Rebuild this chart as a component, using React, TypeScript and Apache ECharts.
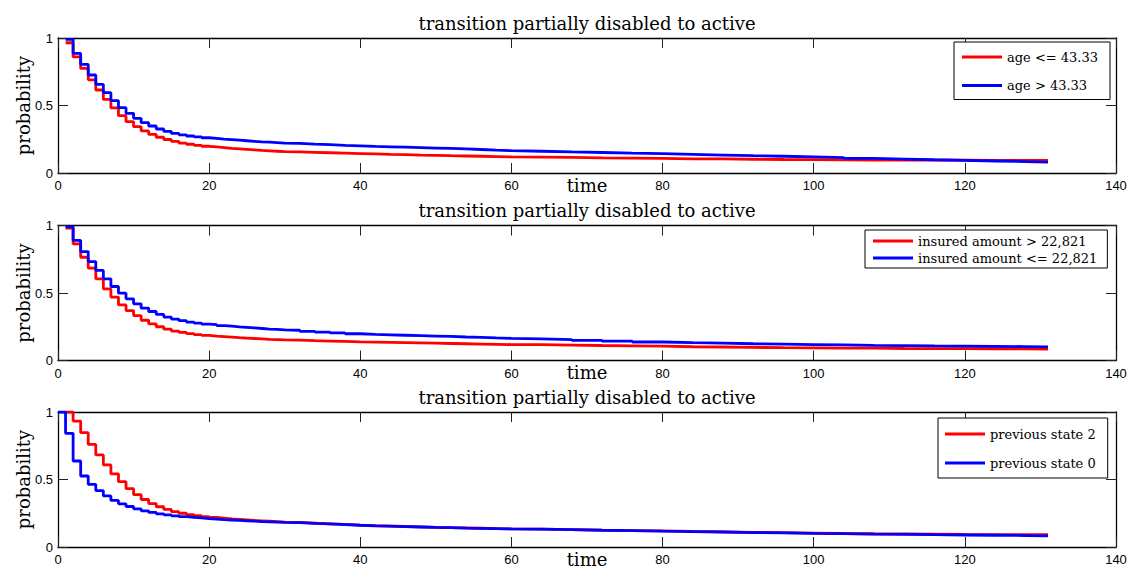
import React, { useEffect, useRef } from "react";
import * as echarts from "echarts";

// Time grid of the survival estimates (unit steps early on, coarser later).
const TIME = [
  1, 2, 3, 4, 5, 6, 7, 8, 9, 10, 11, 12, 13, 14, 15, 16, 17, 18, 19, 20, 21, 22, 23, 24, 25, 26, 27, 28, 29, 30,
  32, 34, 36, 38, 40, 42, 44, 46, 48, 50, 52, 54, 56, 58, 60,
  64, 68, 72, 76, 80, 84, 88, 92, 96, 100, 104, 108, 112, 116, 120, 124, 128, 131,
];
const TIME_FROM_ZERO = [0, ...TIME];

const TITLE = "transition partially disabled to active";
const X_LABEL = "time";
const Y_LABEL = "probability";

const X_MIN = 0;
const X_MAX = 140;
const X_STEP = 20;
const Y_MIN = 0;
const Y_MAX = 1;
const Y_STEP = 0.5;

// Panel 1: split by age
const AGE_NAMES = ["age <= 43.33", "age > 43.33"];
const AGE_LOW = [
  0.965, 0.86, 0.775, 0.69, 0.615, 0.545, 0.482, 0.425, 0.38, 0.343,
  0.312, 0.286, 0.265, 0.248, 0.234, 0.222, 0.213, 0.205, 0.198, 0.193,
  0.188, 0.183, 0.179, 0.175, 0.171, 0.167, 0.164, 0.161, 0.158, 0.156,
  0.153, 0.15, 0.147, 0.144, 0.141, 0.138, 0.136, 0.133, 0.131, 0.128, 0.126, 0.124, 0.122, 0.119, 0.117,
  0.115, 0.112, 0.11, 0.108, 0.105, 0.104, 0.102, 0.1, 0.099, 0.097, 0.096, 0.096, 0.095, 0.095, 0.094, 0.094, 0.094, 0.094,
];
const AGE_HIGH = [
  0.99, 0.886, 0.805, 0.726, 0.657, 0.595, 0.536, 0.484, 0.442, 0.405,
  0.373, 0.348, 0.326, 0.308, 0.293, 0.283, 0.274, 0.267, 0.261, 0.256,
  0.251, 0.247, 0.243, 0.239, 0.235, 0.231, 0.228, 0.225, 0.222, 0.219,
  0.214, 0.21, 0.205, 0.201, 0.197, 0.194, 0.191, 0.188, 0.185, 0.182, 0.178, 0.174, 0.169, 0.165, 0.161,
  0.156, 0.152, 0.147, 0.143, 0.138, 0.133, 0.128, 0.124, 0.119, 0.114, 0.108, 0.103, 0.098, 0.094, 0.089, 0.085, 0.081, 0.078,
];

// Panel 2: split by insured amount
const AMOUNT_NAMES = ["insured amount > 22,821", "insured amount <= 22,821"];
const AMOUNT_HIGH = [
  0.98, 0.864, 0.765, 0.684, 0.605, 0.53, 0.47, 0.412, 0.37, 0.333,
  0.298, 0.272, 0.25, 0.232, 0.218, 0.208, 0.199, 0.192, 0.186, 0.181,
  0.177, 0.173, 0.169, 0.166, 0.163, 0.16, 0.157, 0.155, 0.153, 0.151,
  0.147, 0.144, 0.141, 0.138, 0.136, 0.134, 0.132, 0.13, 0.128, 0.126, 0.124, 0.122, 0.12, 0.118, 0.117,
  0.114, 0.111, 0.109, 0.106, 0.102, 0.1, 0.097, 0.095, 0.094, 0.092, 0.091, 0.089, 0.088, 0.088, 0.087, 0.086, 0.085, 0.084,
];
const AMOUNT_LOW = [
  0.99, 0.89, 0.807, 0.733, 0.667, 0.605, 0.548, 0.499, 0.457, 0.42,
  0.388, 0.363, 0.341, 0.322, 0.307, 0.295, 0.285, 0.277, 0.27, 0.265,
  0.259, 0.254, 0.249, 0.245, 0.241, 0.237, 0.233, 0.23, 0.227, 0.224,
  0.216, 0.21, 0.204, 0.198, 0.193, 0.19, 0.187, 0.184, 0.181, 0.178, 0.174, 0.171, 0.167, 0.164, 0.16,
  0.155, 0.149, 0.143, 0.137, 0.132, 0.128, 0.124, 0.121, 0.118, 0.115, 0.112, 0.11, 0.108, 0.107, 0.105, 0.103, 0.101, 0.099,
];

// Panel 3: split by previous state
const STATE_NAMES = ["previous state 2", "previous state 0"];
const STATE_2 = [
  1.0, 0.933, 0.847, 0.76, 0.682, 0.608, 0.542, 0.484, 0.432, 0.388,
  0.352, 0.322, 0.298, 0.278, 0.262, 0.25, 0.24, 0.232, 0.225, 0.219,
  0.214, 0.209, 0.205, 0.201, 0.197, 0.194, 0.191, 0.188, 0.185, 0.182,
  0.177, 0.172, 0.167, 0.162, 0.158, 0.155, 0.152, 0.149, 0.146, 0.143, 0.141, 0.139, 0.136, 0.134, 0.132,
  0.129, 0.125, 0.122, 0.119, 0.115, 0.112, 0.109, 0.106, 0.103, 0.1, 0.098, 0.097, 0.095, 0.093, 0.092, 0.091, 0.091, 0.09,
];
const STATE_0 = [
  1.0,
  0.842, 0.637, 0.526, 0.464, 0.418, 0.378, 0.345, 0.32, 0.3, 0.283,
  0.268, 0.256, 0.246, 0.238, 0.231, 0.225, 0.22, 0.215, 0.211, 0.207,
  0.203, 0.2, 0.197, 0.194, 0.191, 0.188, 0.186, 0.184, 0.182, 0.18,
  0.175, 0.171, 0.166, 0.161, 0.157, 0.154, 0.151, 0.148, 0.145, 0.143, 0.14, 0.138, 0.136, 0.134, 0.132,
  0.128, 0.124, 0.121, 0.117, 0.114, 0.111, 0.107, 0.104, 0.101, 0.099, 0.096, 0.094, 0.091, 0.089, 0.087, 0.085, 0.082, 0.08,
];

const RED = "#ff0000";
const BLUE = "#0000ff";
const SERIF = "'DejaVu Serif', serif";
const SANS = "'Liberation Sans', Arial, Helvetica, sans-serif";

const zip = (xs: number[], ys: number[]) => xs.map((x, i) => [x, ys[i]]);

type Panel = {
  top: number;
  names: string[];
  red: number[][];
  blue: number[][];
  legend: { left: number; top: number; padding: number[]; itemGap: number };
};

const PANELS: Panel[] = [
  {
    top: 38,
    names: AGE_NAMES,
    red: zip(TIME, AGE_LOW),
    blue: zip(TIME, AGE_HIGH),
    legend: { left: 954, top: 42, padding: [7, 12, 6, 8], itemGap: 12.5 },
  },
  {
    top: 225.5,
    names: AMOUNT_NAMES,
    red: zip(TIME, AMOUNT_HIGH),
    blue: zip(TIME, AMOUNT_LOW),
    legend: { left: 865, top: 230, padding: [3, 10, 2, 8], itemGap: 1 },
  },
  {
    top: 412,
    names: STATE_NAMES,
    red: zip(TIME, STATE_2),
    blue: zip(TIME_FROM_ZERO, STATE_0),
    legend: { left: 938, top: 418, padding: [8, 12, 7, 7], itemGap: 13 },
  },
];

const GRID_LEFT = 58;
const GRID_RIGHT = 15;
const GRID_HEIGHT = 135;
const PLOT_CENTER_X = 587;

function buildOption() {
  const axisLine = { show: true, onZero: false, lineStyle: { color: "#000", width: 1.3 } };
  const axisTick = { show: true, inside: true, length: 10, lineStyle: { color: "#222", width: 1 } };
  const tickFont = { fontFamily: SANS, fontSize: 13, color: "#000" };
  const serifText = { fontFamily: SERIF, fontSize: 18, color: "#000", fontWeight: "normal" as const };

  const grid: any[] = [];
  const xAxis: any[] = [];
  const yAxis: any[] = [];
  const series: any[] = [];
  const title: any[] = [];
  const legend: any[] = [];

  PANELS.forEach((p, i) => {
    grid.push({
      left: GRID_LEFT,
      right: GRID_RIGHT,
      top: p.top,
      height: GRID_HEIGHT,
      show: false,
      containLabel: false,
      outerBoundsMode: "none",
    });

    const xBase = {
      type: "value",
      gridIndex: i,
      min: X_MIN,
      max: X_MAX,
      interval: X_STEP,
      axisLine,
      axisTick,
      splitLine: { show: false },
    };
    xAxis.push({
      ...xBase,
      position: "bottom",
      axisLabel: { ...tickFont, margin: 6 },
      name: X_LABEL,
      nameLocation: "middle",
      nameGap: 3,
      nameMoveOverlap: false,
      nameTextStyle: serifText,
    });
    xAxis.push({ ...xBase, position: "top", axisLabel: { show: false } });

    const yBase = {
      type: "value",
      gridIndex: i,
      min: Y_MIN,
      max: Y_MAX,
      interval: Y_STEP,
      axisLine,
      axisTick,
      splitLine: { show: false },
    };
    yAxis.push({
      ...yBase,
      position: "left",
      axisLabel: { ...tickFont, margin: 5 },
      name: Y_LABEL,
      nameLocation: "middle",
      nameRotate: 90,
      nameGap: 26,
      nameMoveOverlap: false,
      nameTextStyle: serifText,
    });
    yAxis.push({ ...yBase, position: "right", axisLabel: { show: false } });

    const mk = (name: string, data: number[][], color: string) => ({
      type: "line",
      name,
      xAxisIndex: 2 * i,
      yAxisIndex: 2 * i,
      data,
      step: "end",
      symbol: "none",
      showSymbol: false,
      color,
      itemStyle: { color },
      lineStyle: { color, width: 2.8 },
      z: 3,
    });
    series.push(mk(p.names[0], p.red, RED));
    series.push(mk(p.names[1], p.blue, BLUE));

    title.push({
      text: TITLE,
      left: PLOT_CENTER_X,
      top: p.top - 24,
      textAlign: "center",
      padding: 0,
      textStyle: serifText,
    });

    legend.push({
      data: p.names,
      orient: "vertical",
      left: p.legend.left,
      top: p.legend.top,
      padding: p.legend.padding,
      itemGap: p.legend.itemGap,
      itemWidth: 40,
      itemHeight: 3,
      icon: "rect",
      selectedMode: false,
      backgroundColor: "#fff",
      borderColor: "#000",
      borderWidth: 1,
      borderRadius: 0,
      textStyle: { fontFamily: SERIF, fontSize: 13, color: "#000", lineHeight: 16 },
    });
  });

  return {
    animation: false,
    backgroundColor: "#fff",
    grid,
    xAxis,
    yAxis,
    series,
    title,
    legend,
  };
}

export default function App() {
  const ref = useRef<HTMLDivElement>(null);

  useEffect(() => {
    if (!ref.current) return;
    const chart = echarts.init(ref.current, undefined, { renderer: "svg" });
    chart.setOption(buildOption() as any);
    return () => chart.dispose();
  }, []);

  return (
    <div
      ref={ref}
      style={{ position: "absolute", left: 0, top: 0, width: 1131, height: 569, background: "#fff" }}
    />
  );
}
